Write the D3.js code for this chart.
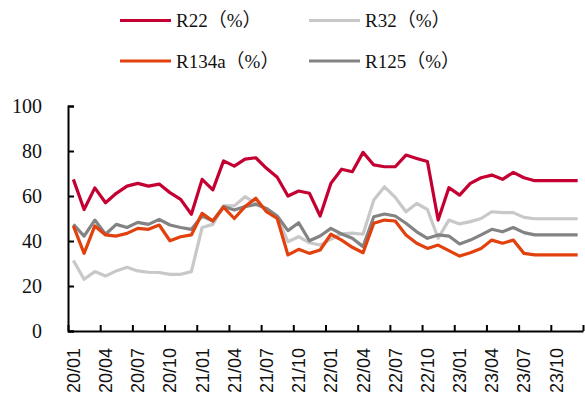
<!DOCTYPE html>
<html>
<head>
<meta charset="utf-8">
<script src="https://cdn.jsdelivr.net/npm/d3@7"></script>
<style>
  html, body { margin: 0; padding: 0; background: #fff; }
  svg { display: block; }
</style>
</head>
<body>
<div id="chart"></div>
<script>
// monthly categories 20/01 .. 23/12
const months = [];
for (const yy of [20, 21, 22, 23]) {
  for (let m = 1; m <= 12; m++) months.push(yy + "/" + String(m).padStart(2, "0"));
}
const tickLabels = months.filter((d, i) => i % 3 === 0);

// series values (%)
const r22 = [67.4, 54, 63.6, 57, 61.2, 64.4, 65.6, 64.4, 65.3, 61.5, 58.5, 51.9,
             67.4, 62.7, 75.6, 73.3, 76.4, 77, 72.3, 68.3, 60, 62.2, 61.2, 51.1,
             65.6, 71.9, 70.8, 79.4, 73.8, 73, 73, 78.2, 76.7, 75.3, 49.3, 63.7,
             60.4, 65.6, 68.1, 69.3, 67.4, 70.5, 68.1, 66.8, 66.8, 66.8, 66.8, 66.8];
const r32 = [31.3, 23, 26.4, 24.4, 26.7, 28.3, 26.7, 26.1, 26, 25.2, 25.2, 26.4,
             46, 47.4, 55.6, 55.6, 59.7, 56.7, 54, 50.5, 39.7, 41.9, 39.2, 38.2,
             40.8, 43.2, 43.5, 43, 58.2, 64.1, 59.4, 53, 56.7, 54, 41.2, 49.3,
             47.6, 48.6, 50, 53, 52.6, 52.6, 50.5, 49.9, 49.9, 49.9, 49.9, 49.9];
const r134a = [46.7, 34.5, 46.7, 42.7, 42.2, 43.4, 45.6, 45.2, 47.1, 40.1, 41.9, 42.7,
               52.3, 48.9, 55, 50, 55.3, 59, 53, 50, 33.8, 36.3, 34.5, 36,
               43, 40.4, 37.2, 34.8, 47.9, 49.3, 48.9, 42.7, 39, 36.7, 38.2, 35.7,
               33.3, 34.8, 36.7, 40.4, 39, 40.4, 34.5, 33.8, 33.8, 33.8, 33.8, 33.8];
const r125 = [47.4, 42.2, 49.3, 43, 47.4, 46, 48.3, 47.4, 49.6, 47.1, 46, 45.2,
              51.1, 48.9, 55.3, 53.8, 55.3, 56.3, 54.5, 51.1, 44.6, 48.1, 40.1, 42.2,
              45.6, 43.1, 41.2, 37.5, 50.8, 52, 51.1, 47.9, 44.1, 41.2, 42.7, 42.2,
              38.7, 40.4, 42.7, 45.2, 44.1, 46, 43.7, 42.7, 42.7, 42.7, 42.7, 42.7];
const yTicks = [0, 20, 40, 60, 80, 100];

// draw order: back to front
const series = [
  { name: "R32（%）", values: r32, color: "#c8c8c8" },
  { name: "R125（%）", values: r125, color: "#838383" },
  { name: "R134a（%）", values: r134a, color: "#e2410d" },
  { name: "R22（%）", values: r22, color: "#c40033" }
];
const legendOrder = ["R22（%）", "R32（%）", "R134a（%）", "R125（%）"];

const W = 585, H = 404;
const plot = { left: 68, right: 583, top: 106, bottom: 331 };

const svg = d3.select("#chart").append("svg").attr("width", W).attr("height", H);

// category boundaries on a linear index scale, points sit at the middle of each slot
const xb = d3.scaleLinear().domain([0, months.length]).range([plot.left, plot.right]);
const y = d3.scaleLinear().domain([0, 100]).range([plot.bottom, plot.top]);

// y axis — ticks point inward, serif labels
const yAxis = svg.append("g")
  .attr("transform", `translate(${plot.left},0)`)
  .call(d3.axisLeft(y).tickValues(yTicks).tickSize(-6).tickPadding(26));
yAxis.select(".domain").attr("stroke", "#000").attr("stroke-width", 2);
yAxis.selectAll(".tick line").attr("stroke", "#000").attr("stroke-width", 2);
yAxis.selectAll(".tick text")
  .attr("font-family", "'Liberation Serif', 'Times New Roman', serif")
  .attr("font-size", 20).attr("fill", "#111");

// x axis — tick marks between categories, every 3 months
const xAxis = svg.append("g")
  .attr("transform", `translate(0,${plot.bottom})`)
  .call(d3.axisBottom(xb).tickValues(d3.range(0, months.length + 1, 3))
    .tickSize(-6).tickSizeOuter(0).tickFormat(""));
xAxis.select(".domain").attr("stroke", "#000").attr("stroke-width", 2);
xAxis.selectAll(".tick line").attr("stroke", "#000").attr("stroke-width", 2);

svg.append("g").selectAll("text")
  .data(tickLabels).join("text")
  .attr("transform", d => `translate(${xb(months.indexOf(d) + 0.5) + 6.5},${plot.bottom + 17}) rotate(-90)`)
  .attr("text-anchor", "end")
  .attr("font-family", "'Liberation Sans', Arial, sans-serif")
  .attr("font-size", 18).attr("fill", "#111")
  .text(d => d);

// lines
const line = d3.line()
  .x((d, i) => xb(i + 0.5))
  .y(d => y(d));
svg.append("g").selectAll("path")
  .data(series).join("path")
  .attr("d", d => line(d.values))
  .attr("fill", "none")
  .attr("stroke", d => d.color)
  .attr("stroke-width", 3.2)
  .attr("stroke-linejoin", "round");

// legend, 2 x 2
const legendPos = [[120, 20.5], [309, 20.5], [120, 61], [309, 61]];
const lg = svg.append("g").selectAll("g")
  .data(legendOrder).join("g")
  .attr("transform", (d, i) => `translate(${legendPos[i][0]},${legendPos[i][1]})`);
lg.append("line")
  .attr("x1", 0).attr("x2", 51)
  .attr("stroke", d => series.find(s => s.name === d).color)
  .attr("stroke-width", 3.2);
lg.append("text")
  .attr("x", 56).attr("dy", "0.36em")
  .attr("font-family", "'Liberation Serif', 'Times New Roman', 'Noto Sans CJK SC', serif")
  .attr("font-size", 19).attr("fill", "#111")
  .text(d => d);
</script>
</body>
</html>
